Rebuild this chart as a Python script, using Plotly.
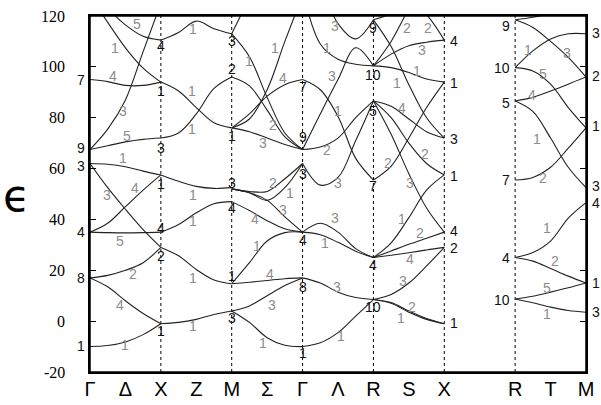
import plotly.graph_objects as go

# sample positions along each path segment (fraction of the segment)
frac = [0, 0.25, 0.5, 0.75, 1]

# start of each segment on the k axis
seg_start = {"delta": 0, "z": 1, "sigma": 2, "lambda": 3, "s": 4, "t": 6}

# Gamma -> X
delta_bands = [
    [-10, -9.6, -8.2, -5.3, -1],
    [17, 13.5, 8, 3, -1],
    [17, 18, 20, 23, 29],
    [35, 34.8, 34.7, 34.8, 35],
    [35, 38.5, 45, 51.5, 57.5],
    [62, 52.5, 44, 36, 29],
    [62, 61.7, 60.7, 59, 57.5],
    [67.5, 69, 70.5, 71.5, 72],
    [67.5, 75.5, 87, 106, 125],
    [95, 94.2, 92.7, 92.7, 94],
    [128, 117.5, 107.5, 99.5, 94],
    [131, 123, 116.5, 112, 110.5],
]

# X -> M
z_bands = [
    [-1, -0.5, 0.7, 2.6, 4],
    [29, 25.7, 20.3, 16.2, 14.7],
    [35, 38, 42.6, 46.2, 47],
    [57.5, 55, 53, 52.2, 52.5],
    [72, 74, 81.5, 91.5, 96],
    [94, 90.5, 84, 78, 76],
    [110.5, 113.5, 118, 115, 113],
]

# M -> Gamma
sigma_bands = [
    [4, -0.5, -6.5, -9.5, -10],
    [4, 6, 10, 14, 17],
    [14.7, 15.3, 16, 16.7, 17],
    [14.7, 23, 31.5, 34.8, 35],
    [47, 43.5, 39.5, 36.3, 35],
    [52, 50.5, 47.5, 41, 35],
    [52, 51, 51, 56, 62],
    [52, 50.5, 47.5, 52.5, 62],
    [76, 74.5, 72, 69.5, 67.5],
    [76, 81.5, 88.5, 93, 95],
    [76, 79.5, 91, 110, 128],
    [96, 92.5, 83, 72.5, 67.5],
    [113, 104, 88, 74, 67.5],
    [113, 127, 140, 152, 160],
]

# Gamma -> R
lambda_bands = [
    [-10, -8.5, -4.5, 2, 8.5],
    [17, 15, 11.4, 9.3, 8.5],
    [35, 34, 31, 27.5, 25],
    [35, 38.5, 35, 28.5, 25],
    [62, 53.5, 56.5, 71, 86.6],
    [67.5, 68.5, 72, 80, 86.6],
    [67.5, 81.5, 95, 107.5, 100.4],
    [95, 91, 80.5, 64, 55.5],
    [130, 109, 103, 101, 100.4],
    [150, 133, 117, 111, 118.5],
]

# R -> X
s_bands = [
    [8.5, 7, 3.5, 0.7, -1],
    [8.5, 7.3, 4, 1, -1],
    [8.5, 10.5, 15, 21.7, 29],
    [25, 25.9, 26.9, 28, 29],
    [25, 27.6, 30.2, 32.6, 35],
    [25, 30.8, 40.7, 51.5, 57.5],
    [55.5, 61, 72, 84, 94],
    [86.6, 73.5, 58, 44.5, 35],
    [86.6, 80, 70, 62, 57.5],
    [86.6, 84.5, 79.5, 74.5, 72],
    [100.4, 99.7, 97.8, 95.2, 94],
    [100.4, 105, 108.3, 109.7, 110.5],
    [118.5, 108, 93, 80, 72],
    [100.4, 110, 123, 135, 145],
    [118.5, 121, 126, 131, 136],
    [140, 133, 126, 120.5, 110.5],
]

# R -> M (right panel)
t_bands = [
    [8.7, 9.8, 11.4, 13.1, 15],
    [8.7, 7.2, 5.5, 4.2, 3.5],
    [25, 23.6, 20.7, 17.7, 15],
    [25, 27, 31.5, 40.5, 46.6],
    [55.5, 56.5, 60.5, 68, 76],
    [86.6, 82.5, 72, 60.5, 52.5],
    [86.6, 88, 90.5, 93.2, 96],
    [99.7, 98.4, 93.2, 84, 76],
    [99.7, 106.3, 111, 113, 113],
    [118.5, 115.5, 110, 103.7, 96],
    [118.5, 119.5, 121, 123, 125],
]

k_ticks = [0, 0.5, 1, 1.5, 2, 2.5, 3, 3.5, 4, 4.5, 5, 6, 6.5, 7]
k_names = ["Γ", "Δ", "X", "Z", "M", "Σ", "Γ", "Λ", "R", "S", "X", "R", "T", "M"]
e_ticks = [-20, 0, 20, 40, 60, 80, 100, 120]
sym_points = [1, 2, 3, 4, 5, 6]

# irreducible-representation labels at symmetry points: (k, energy, text, side)
sym_labels = [
    (0, 94.8, "7", "l"), (0, 68.1, "9", "l"), (0, 61, "3", "l"),
    (0, 35.1, "4", "l"), (0, 17, "8", "l"), (0, -9.8, "1", "l"),
    (1, 108.1, "4", "c"), (1, 90.4, "1", "c"), (1, 68.1, "3", "c"), (1, 54, "1", "c"),
    (1, 36.7, "4", "c"), (1, 25.6, "2", "c"), (1, -3.9, "1", "c"),
    (2, 110.1, "3", "c"), (2, 99, "2", "c"), (2, 72.7, "1", "c"), (2, 54.4, "3", "c"),
    (2, 44.6, "4", "c"), (2, 17.7, "1", "c"), (2, 1.3, "3", "c"),
    (3, 92, "7", "c"), (3, 72.4, "9", "c"), (3, 57.7, "3", "c"),
    (3, 32.1, "4", "c"), (3, 13.4, "8", "c"), (3, -12.7, "1", "c"),
    (4, 115.3, "9", "c"), (4, 96.7, "10", "c"), (4, 82.6, "5", "c"),
    (4, 53.1, "7", "c"), (4, 22, "4", "c"), (4, 5.5, "10", "c"),
    (5, 110.1, "4", "r"), (5, 93.7, "1", "r"), (5, 71.5, "3", "r"), (5, 57, "1", "r"),
    (5, 35.4, "4", "r"), (5, 28.8, "2", "r"), (5, -0.9, "1", "r"),
    (6, 116, "9", "l"), (6, 99.6, "10", "l"), (6, 85.8, "5", "l"),
    (6, 55.7, "7", "l"), (6, 24.9, "4", "l"), (6, 8.5, "10", "l"),
    (7, 113.4, "3", "r"), (7, 96.3, "2", "r"), (7, 76.7, "1", "r"), (7, 53.1, "3", "r"),
    (7, 46.5, "4", "r"), (7, 15.1, "1", "r"), (7, 3.5, "3", "r"),
]

# band labels along the lines: (k, energy, text)
band_labels = [
    (0.659, 116.7, "5"), (0.353, 107.5, "1"), (0.329, 96.3, "4"), (0.47, 82.6, "3"),
    (0.518, 72.7, "5"), (0.47, 64.2, "1"), (0.236, 49.5, "3"), (0.635, 52.4, "4"),
    (0.423, 31.5, "5"), (0.611, 18.4, "2"), (0.423, 6.3, "4"), (0.494, -9.4, "1"),
    (1.458, 114.7, "1"), (1.435, 90.4, "1"), (1.435, 75.4, "1"), (1.458, 49.8, "1"),
    (1.458, 39.3, "1"), (1.458, 17, "1"), (1.458, -2, "1"),
    (2.248, 102.2, "1"), (2.611, 107.5, "1"), (2.728, 95.7, "4"), (2.587, 77.3, "2"),
    (2.446, 70.1, "3"), (2.587, 54.4, "2"), (2.822, 50.5, "1"), (2.728, 43.9, "3"),
    (2.329, 40, "4"), (2.352, 29.5, "1"), (2.54, 18.4, "4"), (2.564, 6.3, "3"),
    (2.446, -8.5, "1"),
    (3.458, 116, "3"), (3.34, 107.5, "1"), (3.41, 96.3, "3"), (3.504, 82.6, "1"),
    (3.34, 67.5, "2"), (3.504, 54.4, "3"), (3.458, 40.6, "3"), (3.316, 30.8, "1"),
    (3.49, 13.4, "3"), (3.538, -5.9, "1"),
    (4.469, 115.3, "2"), (4.774, 115.3, "2"), (4.681, 106.8, "3"), (4.611, 98.3, "1"),
    (4.328, 93.7, "1"), (4.399, 83.9, "4"), (4.728, 65.6, "2"), (4.21, 62.2, "2"),
    (4.516, 54.4, "3"), (4.399, 40, "1"), (4.657, 34.7, "2"), (4.516, 24.3, "4"),
    (4.421, 15.7, "3"), (4.548, 5.5, "2"), (4.385, 1.3, "1"),
    (6.185, 106.8, "1"), (6.727, 105.5, "3"), (6.397, 97, "5"), (6.233, 89.1, "4"),
    (6.304, 71.5, "1"), (6.397, 56.4, "2"), (6.445, 36.7, "1"), (6.562, 23.6, "2"),
    (6.454, 12.9, "5"), (6.454, 2.9, "1"),
]

segments = [
    ("delta", delta_bands), ("z", z_bands), ("sigma", sigma_bands),
    ("lambda", lambda_bands), ("s", s_bands), ("t", t_bands),
]

fig = go.Figure()
for name, bands in segments:
    xs = [seg_start[name] + f for f in frac]
    for band in bands:
        fig.add_trace(go.Scatter(
            x=xs, y=band, mode="lines",
            line=dict(color="#222222", width=1.1, shape="spline"),
            hoverinfo="skip", showlegend=False,
        ))

# dotted verticals at the symmetry points
for k in sym_points:
    fig.add_shape(type="line", xref="x", yref="paper", x0=k, x1=k, y0=0, y1=1,
                  line=dict(color="black", width=1, dash="dot"), layer="below")

# outer frame
fig.add_shape(type="rect", xref="paper", yref="paper", x0=0, x1=1, y0=0, y1=1,
              line=dict(color="black", width=1.5))

# energy tick labels, set well away from the axis
for v in e_ticks:
    fig.add_annotation(xref="paper", x=0, y=v, text=str(v), showarrow=False,
                       xanchor="right", yanchor="middle", xshift=-23,
                       font=dict(family="Liberation Serif, Times New Roman, serif",
                                 size=16, color="black"))

label_font = dict(family="Liberation Sans, Arial, sans-serif", size=14)
for k, e, txt, side in sym_labels:
    anchor = {"l": "right", "c": "center", "r": "left"}[side]
    shift = {"l": -3, "c": 0, "r": 4}[side]
    fig.add_annotation(x=k, y=e, text=txt, showarrow=False, xanchor=anchor,
                       yanchor="middle", xshift=shift,
                       font=dict(color="#111111", **label_font))

for k, e, txt in band_labels:
    fig.add_annotation(x=k, y=e, text=txt, showarrow=False, xanchor="center",
                       yanchor="middle", font=dict(color="#8c8c8c", **label_font))

# the epsilon axis symbol
fig.add_annotation(xref="paper", yref="paper", x=-0.148, y=0.497, text="ϵ",
                   showarrow=False, xanchor="center", yanchor="middle",
                   font=dict(family="DejaVu Sans, sans-serif", size=44, color="black"))

fig.update_layout(
    width=601, height=405,
    margin=dict(l=90, r=15, t=16, b=33),
    paper_bgcolor="white", plot_bgcolor="white",
    showlegend=False,
    xaxis=dict(
        range=[0, 7], tickvals=k_ticks, ticktext=k_names,
        automargin=False, ticklabeloverflow="allow", ticklabelstandoff=-2,
        showgrid=False, zeroline=False, ticks="",
        showline=True, linecolor="black", linewidth=1.5, mirror=True,
        tickfont=dict(family="Liberation Sans, Arial, sans-serif", size=20, color="black"),
    ),
    yaxis=dict(
        range=[-20, 120], tickvals=e_ticks, showticklabels=False,
        automargin=False,
        showgrid=False, zeroline=False,
        ticks="inside", ticklen=6, tickcolor="black",
        showline=True, linecolor="black", linewidth=1.5, mirror="ticks",
    ),
)

# drop the page's default body margin so the figure fills the window
fig.write_html("out.html", config={"displayModeBar": False},
               post_script="document.body.style.margin='0';document.body.style.overflow='hidden';")
